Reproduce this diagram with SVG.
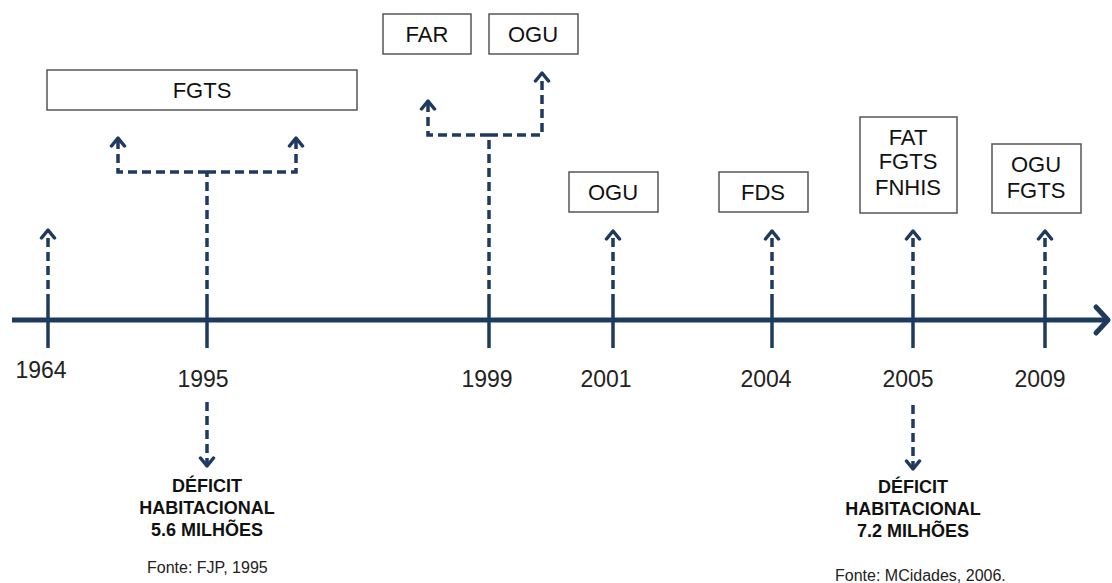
<svg xmlns="http://www.w3.org/2000/svg" width="1112" height="583" viewBox="0 0 1112 583">
<style>
.box{fill:#fff;stroke:#555;stroke-width:1.5}
.bt{font-family:"Liberation Sans",Arial,sans-serif;font-size:22px;fill:#111;text-anchor:middle}
.yr{font-family:"Liberation Sans",Arial,sans-serif;font-size:23px;fill:#222;text-anchor:middle}
.def{font-family:"Liberation Sans",Arial,sans-serif;font-size:18px;font-weight:bold;fill:#111;text-anchor:middle}
.src{font-family:"Liberation Sans",Arial,sans-serif;font-size:16px;fill:#222}
.dash{fill:none;stroke:#1e3a5f;stroke-width:3.5;stroke-dasharray:9 5}
.tick{stroke:#1e3a5f;stroke-width:3.5}
.ah{fill:none;stroke:#1e3a5f;stroke-width:3.5;stroke-linecap:round;stroke-linejoin:round;stroke-dasharray:none}
</style>
<defs>
<marker id="arr" viewBox="-11 -9 13 18" markerUnits="userSpaceOnUse" markerWidth="13" markerHeight="18" refX="0" refY="0" orient="auto">
<path class="ah" d="M-8,-6.5 L0,0 L-8,6.5"/>
</marker>
</defs>
<rect width="1112" height="583" fill="#fff"/>
<g id="connectors">
<line x1="12" y1="320" x2="1106" y2="320" stroke="#1e3a5f" stroke-width="5"/>
<path d="M1096,307 L1108,320 L1096,333" fill="none" stroke="#1e3a5f" stroke-width="5" stroke-linecap="round" stroke-linejoin="round"/>
<line class="tick" x1="48" y1="303" x2="48" y2="348"/>
<line class="tick" x1="207" y1="303" x2="207" y2="348"/>
<line class="tick" x1="489" y1="303" x2="489" y2="348"/>
<line class="tick" x1="613" y1="303" x2="613" y2="348"/>
<line class="tick" x1="772" y1="303" x2="772" y2="348"/>
<line class="tick" x1="913" y1="303" x2="913" y2="348"/>
<line class="tick" x1="1045" y1="303" x2="1045" y2="348"/>
<line class="dash" x1="48" y1="303" x2="48" y2="230" marker-end="url(#arr)"/>
<line class="dash" x1="207" y1="303" x2="207" y2="172"/>
<path class="dash" d="M207,172 H118 V138" marker-end="url(#arr)"/>
<path class="dash" d="M207,172 H296 V138" marker-end="url(#arr)"/>
<line class="dash" x1="489" y1="303" x2="489" y2="135"/>
<path class="dash" d="M489,135 H428 V101" marker-end="url(#arr)"/>
<path class="dash" d="M489,135 H542 V73" marker-end="url(#arr)"/>
<line class="dash" x1="613" y1="303" x2="613" y2="231" marker-end="url(#arr)"/>
<line class="dash" x1="772" y1="303" x2="772" y2="231" marker-end="url(#arr)"/>
<line class="dash" x1="913" y1="303" x2="913" y2="231" marker-end="url(#arr)"/>
<line class="dash" x1="1045" y1="303" x2="1045" y2="231" marker-end="url(#arr)"/>
<line class="dash" x1="207" y1="402" x2="207" y2="466" marker-end="url(#arr)"/>
<line class="dash" x1="913" y1="405" x2="913" y2="469" marker-end="url(#arr)"/>
</g>
<g id="n-fgts1995"><rect class="box" x="47" y="70" width="310" height="40"/><text class="bt" x="202" y="98">FGTS</text></g>
<g id="n-far"><rect class="box" x="383" y="14" width="88" height="40"/><text class="bt" x="427" y="42">FAR</text></g>
<g id="n-ogu1999"><rect class="box" x="489" y="14" width="89" height="40"/><text class="bt" x="533" y="42">OGU</text></g>
<g id="n-ogu2001"><rect class="box" x="569" y="172" width="89" height="40"/><text class="bt" x="613" y="200">OGU</text></g>
<g id="n-fds"><rect class="box" x="719" y="172" width="89" height="40"/><text class="bt" x="763" y="200">FDS</text></g>
<g id="n-2005"><rect class="box" x="860" y="117" width="97" height="96"/><text class="bt" x="908" y="145">FAT</text><text class="bt" x="908" y="169">FGTS</text><text class="bt" x="908" y="195">FNHIS</text></g>
<g id="n-2009"><rect class="box" x="992" y="144" width="89" height="69"/><text class="bt" x="1036" y="172">OGU</text><text class="bt" x="1036" y="198">FGTS</text></g>
<g id="years">
<text class="yr" x="41" y="378" fill="#333">1964</text>
<text class="yr" x="203" y="387">1995</text>
<text class="yr" x="487" y="387">1999</text>
<text class="yr" x="606" y="387">2001</text>
<text class="yr" x="766" y="387">2004</text>
<text class="yr" x="908" y="387">2005</text>
<text class="yr" x="1040" y="387">2009</text>
</g>
<g id="n-deficit1995">
<text class="def" x="207" y="492">DÉFICIT</text>
<text class="def" x="207" y="514">HABITACIONAL</text>
<text class="def" x="207" y="536">5.6 MILHÕES</text>
<text class="src" x="147" y="573">Fonte: FJP, 1995</text>
</g>
<g id="n-deficit2005">
<text class="def" x="913" y="493">DÉFICIT</text>
<text class="def" x="913" y="515">HABITACIONAL</text>
<text class="def" x="913" y="537">7.2 MILHÕES</text>
<text class="src" x="835" y="581">Fonte: MCidades, 2006.</text>
</g>
</svg>
